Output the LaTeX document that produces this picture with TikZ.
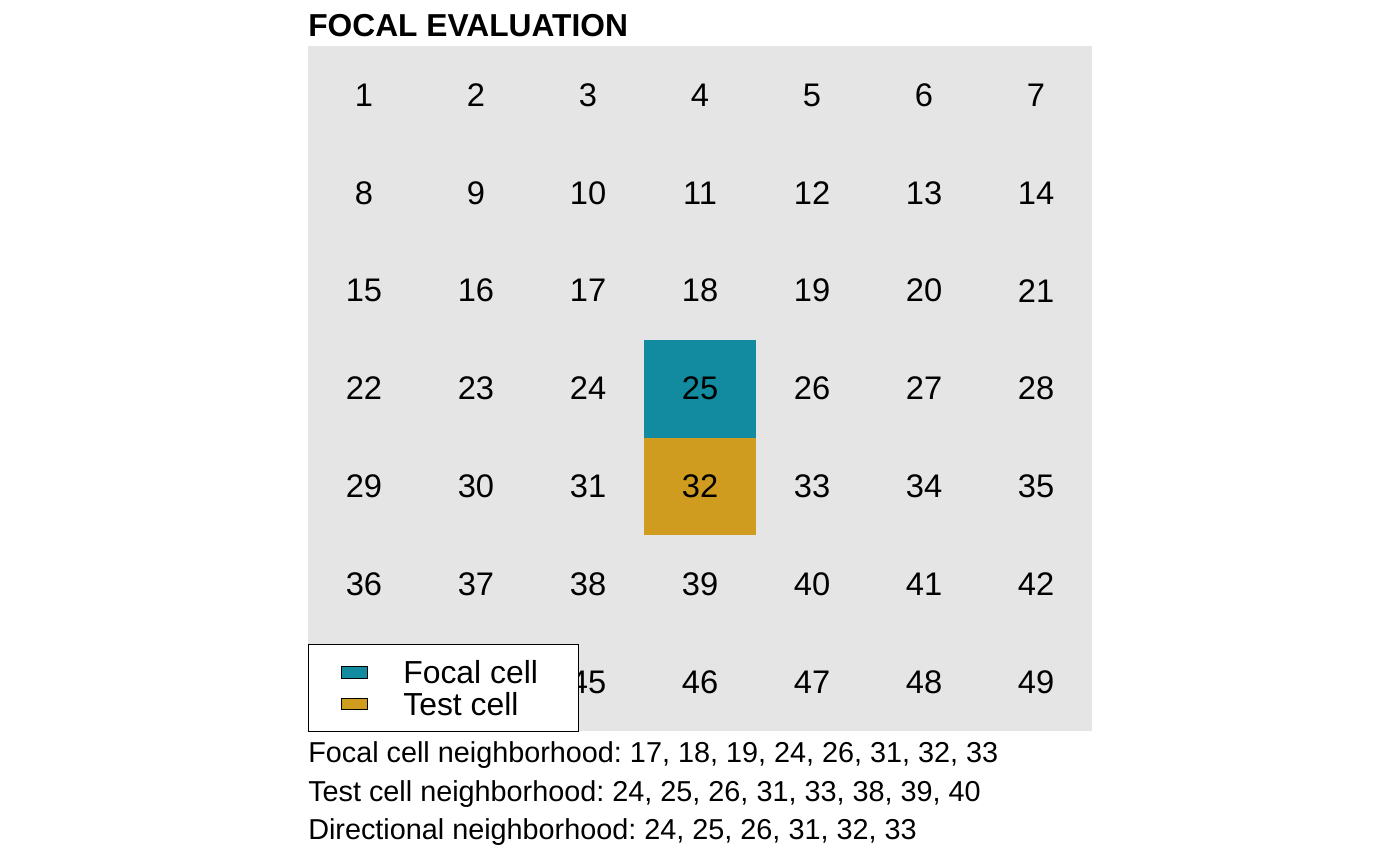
\documentclass[tikz,border=0pt]{standalone}
\usepackage{fontspec}
\setmainfont{Liberation Sans}
\usetikzlibrary{positioning}
\definecolor{focalteal}{HTML}{128AA0}
\definecolor{testgold}{HTML}{CF9C20}
\definecolor{cellgray}{HTML}{E5E5E5}
\frenchspacing

\begin{document}
\begin{tikzpicture}[x=0.75pt, y=-0.75pt,
    cell/.style={minimum width=84pt, minimum height=73.4pt, inner sep=0pt, anchor=center, font=\fontsize{24.5}{28}\selectfont},
    key/.style={draw, line width=0.9pt, minimum width=20pt, minimum height=8.5pt, inner sep=0pt},
    keytext/.style={right=26pt of #1, inner sep=0pt, font=\fontsize{23.9}{28}\selectfont},
    note/.style={anchor=base west, inner sep=0pt, font=\fontsize{21.6}{25}\selectfont}
]
\useasboundingbox (0,0) rectangle (1400,866);

% Title
\node[anchor=base west, inner sep=0pt, font=\bfseries\fontsize{23.8}{28}\selectfont] (title) at (308,37) {FOCAL EVALUATION};

% Raster of cells
\fill[cellgray] (308,46) rectangle (1092,731);
\foreach \i in {1,...,49} {
  \pgfmathtruncatemacro{\col}{mod(\i-1,7)}
  \pgfmathtruncatemacro{\row}{div(\i-1,7)}
  \def\cellcol{none}
  \ifnum\i=25 \def\cellcol{focalteal}\fi
  \ifnum\i=32 \def\cellcol{testgold}\fi
  \node[cell, fill=\cellcol] (c\i) at ({364+112*\col},{95+97.86*\row}) {\i};
}

% Legend
\node[draw, line width=0.8pt, fill=white, minimum width=202.5pt, minimum height=65pt, inner sep=0pt, anchor=north west] (legend) at (308,644) {};
\node[key, fill=focalteal] (kfocal) at (354.5,672.5) {};
\node[key, fill=testgold] (ktest) at (354.5,704) {};
\node[keytext=kfocal] (lfocal) {Focal cell};
\node[keytext=ktest] (ltest) {Test cell};

% Neighborhood notes
\node[note] (nfocal) at (308,762) {Focal cell neighborhood: 17, 18, 19, 24, 26, 31, 32, 33};
\node[note] (ntest) at (308,801) {Test cell neighborhood: 24, 25, 26, 31, 33, 38, 39, 40};
\node[note] (ndir) at (308,839) {Directional neighborhood: 24, 25, 26, 31, 32, 33};

\end{tikzpicture}
\end{document}
